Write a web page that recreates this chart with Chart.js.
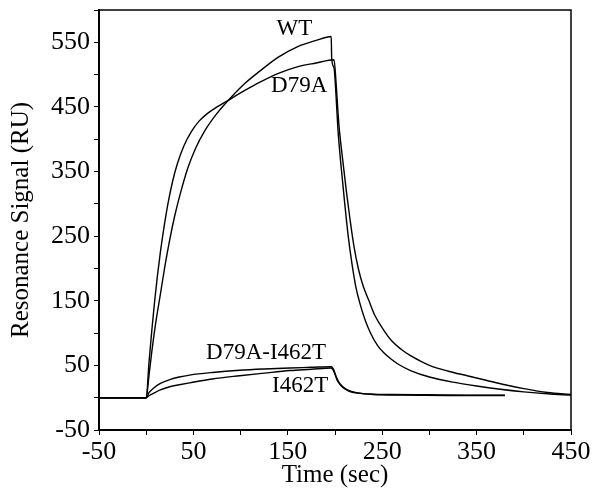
<!DOCTYPE html>
<html>
<head>
<meta charset="utf-8">
<script src="https://cdn.jsdelivr.net/npm/chart.js@4.4.0/dist/chart.umd.min.js"></script>
<style>
  html, body { margin: 0; padding: 0; background: #fff; }
  #wrap { width: 594px; height: 497px; }
</style>
</head>
<body>
<div id="wrap"><canvas id="myChart" width="594" height="497"></canvas></div>
<script>
// sensorgram data (time in sec, signal in RU)
const wtTime = [-50, 0, 3, 6, 10, 15, 20, 25, 30, 36, 44, 52, 62, 75, 90, 105, 120, 140, 160, 180, 196,
    196.5, 199, 201, 203, 206, 210, 214, 218, 222, 226, 232, 238, 245, 252, 260, 268, 280, 300, 325, 350, 375, 400, 425, 450];
const wtSignal = [0, 0, 35, 72, 115, 160, 205, 245, 280, 315, 355, 385, 413, 440, 465, 487, 505, 527, 543, 553, 559,
    525, 510, 470, 418, 365, 305, 250, 207, 172, 148, 120, 99, 81, 69, 59, 51, 42, 32, 24, 18, 13, 9, 6, 4];

const d79aTime = [-50, 0, 3, 6, 9, 12, 15, 19, 23, 28, 33, 40, 48, 56, 65, 75, 90, 105, 120, 140, 160, 180, 199,
    201, 204, 208, 212, 216, 220, 225, 230, 236, 242, 250, 260, 270, 280, 290, 300, 320, 340, 360, 380, 400, 425, 450];
const d79aSignal = [0, 0, 55, 105, 150, 190, 225, 265, 300, 335, 362, 390, 412, 428, 440, 450, 463, 476, 488, 502, 512, 518, 523,
    490, 425, 370, 320, 275, 235, 198, 172, 150, 128, 108, 88, 75, 65, 57, 50, 41, 34, 27, 20, 14, 8, 5];

const dblTime = [-50, 0, 3, 8, 15, 25, 35, 46, 70, 99, 125, 152, 175, 196,
    198, 200, 202, 205, 209, 215, 224, 240, 260, 300, 340, 380];
const dblSignal = [0, 0, 8, 15, 22, 28, 32, 35, 39, 42.5, 44.5, 46, 47, 48,
    45, 38, 30, 22, 16, 11, 7.5, 5.5, 5, 4.5, 4, 4];

const i462tTime = [-50, 0, 3, 8, 15, 25, 35, 46, 70, 99, 125, 152, 175, 196,
    198, 200, 202, 205, 209, 215, 224, 240, 270, 320, 380];
const i462tSignal = [0, 0, 3, 7, 12, 17, 20, 23, 29, 34, 38, 42, 44, 46,
    43, 36, 28, 21, 15, 10, 7, 5, 4, 3.5, 3.5];

// curve names written next to the traces (data units)
const curveLabels = [
    { text: 'WT', t: 157, v: 570 },
    { text: 'D79A', t: 162, v: 482 },
    { text: 'D79A-I462T', t: 127, v: 69 },
    { text: 'I462T', t: 163, v: 18 },
];

const toPoints = (xs, ys) => xs.map((x, i) => ({ x: x, y: ys[i] }));
const serif = '"Liberation Serif", "Times New Roman", serif';

function lineSet(label, xs, ys) {
    return {
        label: label,
        data: toPoints(xs, ys),
        borderColor: '#000',
        borderWidth: 1.4,
        pointRadius: 0,
        fill: false,
        cubicInterpolationMode: 'monotone',
    };
}

const framePlugin = {
    id: 'frame',
    afterDatasetsDraw(chart) {
        const { ctx, chartArea: a, scales: { x, y } } = chart;
        ctx.save();
        ctx.strokeStyle = '#000';
        ctx.lineWidth = 1.5;
        ctx.strokeRect(a.left, a.top, a.right - a.left, a.bottom - a.top);
        ctx.fillStyle = '#000';
        ctx.font = '23px ' + serif;
        ctx.textAlign = 'center';
        ctx.textBaseline = 'middle';
        curveLabels.forEach(l => {
            ctx.fillText(l.text, x.getPixelForValue(l.t), y.getPixelForValue(l.v));
        });
        ctx.restore();
    },
};

const ctx = document.getElementById('myChart').getContext('2d');
const myChart = new Chart(ctx, {
    type: 'line',
    data: {
        datasets: [
            lineSet('WT', wtTime, wtSignal),
            lineSet('D79A', d79aTime, d79aSignal),
            lineSet('D79A-I462T', dblTime, dblSignal),
            lineSet('I462T', i462tTime, i462tSignal),
        ],
    },
    options: {
        responsive: false,
        animation: false,
        layout: { padding: { top: 10, right: 23, left: 0, bottom: 0 } },
        plugins: {
            legend: { display: false },
            tooltip: { enabled: false },
        },
        scales: {
            x: {
                type: 'linear',
                min: -50,
                max: 450,
                border: { color: '#000', width: 2 },
                grid: { drawOnChartArea: false, color: '#000', tickLength: 5, tickWidth: 1 },
                ticks: {
                    stepSize: 50,
                    autoSkip: false,
                    maxRotation: 0,
                    padding: 2,
                    color: '#000',
                    font: { family: serif, size: 26 },
                    callback: v => ((v + 50) % 100 === 0 ? v : ''),
                },
                title: {
                    display: true,
                    text: 'Time (sec)',
                    color: '#000',
                    font: { family: serif, size: 25 },
                    padding: { top: 0, bottom: 7 },
                },
                afterFit(s) {
                    s.height = 67;
                    s.paddingLeft = 0;
                    s.paddingRight = 0;
                },
            },
            y: {
                min: -50,
                max: 600,
                border: { color: '#000', width: 2 },
                grid: { drawOnChartArea: false, color: '#000', tickLength: 5, tickWidth: 1 },
                ticks: {
                    stepSize: 50,
                    autoSkip: false,
                    padding: 4,
                    color: '#000',
                    font: { family: serif, size: 26 },
                    callback: v => ((v + 50) % 100 === 0 ? v : ''),
                },
                title: {
                    display: true,
                    text: 'Resonance Signal (RU)',
                    color: '#000',
                    font: { family: serif, size: 25 },
                    padding: { top: 6, bottom: 0 },
                },
                afterFit(s) {
                    s.width = 99;
                    s.paddingTop = 0;
                    s.paddingBottom = 0;
                },
            },
        },
    },
    plugins: [framePlugin],
});
</script>
</body>
</html>
